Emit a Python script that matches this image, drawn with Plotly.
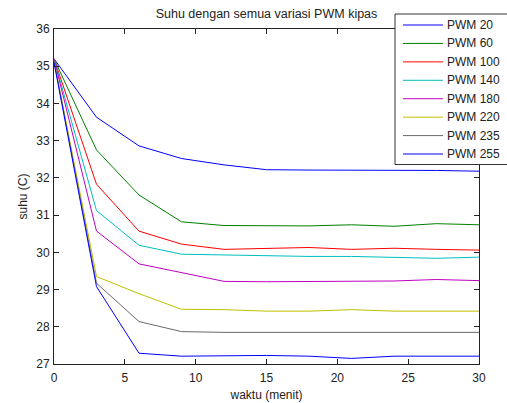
import plotly.graph_objects as go

waktu = [0, 3, 6, 9, 12, 15, 18, 21, 24, 27, 30]

pwm20  = [35.20, 33.63, 32.86, 32.52, 32.35, 32.22, 32.21, 32.21, 32.19, 32.20, 32.18]
pwm60  = [35.20, 32.75, 31.54, 30.82, 30.72, 30.71, 30.71, 30.74, 30.70, 30.77, 30.74]
pwm100 = [35.20, 31.83, 30.57, 30.22, 30.08, 30.11, 30.13, 30.08, 30.11, 30.08, 30.06]
pwm140 = [35.20, 31.12, 30.19, 29.95, 29.93, 29.90, 29.89, 29.89, 29.87, 29.84, 29.87]
pwm180 = [35.20, 30.57, 29.69, 29.45, 29.22, 29.21, 29.21, 29.21, 29.23, 29.27, 29.24]
pwm220 = [35.15, 29.35, 28.89, 28.47, 28.46, 28.42, 28.42, 28.46, 28.42, 28.42, 28.42]
pwm235 = [35.15, 29.17, 28.14, 27.87, 27.85, 27.85, 27.85, 27.85, 27.85, 27.87, 27.85]
pwm255 = [35.10, 29.08, 27.29, 27.21, 27.22, 27.23, 27.21, 27.15, 27.21, 27.21, 27.21]

labels = ["PWM 20", "PWM 60", "PWM 100", "PWM 140", "PWM 180", "PWM 220", "PWM 235", "PWM 255"]
series = [pwm20, pwm60, pwm100, pwm140, pwm180, pwm220, pwm235, pwm255]
colors = ["#0000ff", "#008000", "#ff0000", "#00bfbf", "#bf00bf", "#bfbf00", "#6a6a6a", "#0000ff"]

x_ticks = [0, 5, 10, 15, 20, 25, 30]
y_ticks = [27, 28, 29, 30, 31, 32, 33, 34, 35, 36]

W, H = 507, 403
L, R, T, B = 54, 28, 29, 39
PW, PH = W - L - R, H - T - B

def px_x(px):
    return (px - L) / PW

def px_y(py):
    return (H - B - py) / PH

fig = go.Figure()
for name, ys, c in zip(labels, series, colors):
    fig.add_trace(go.Scatter(x=waktu, y=ys, mode="lines", name=name,
                             line=dict(color=c, width=1), showlegend=False))

font = "Liberation Sans, Arial, sans-serif"
txt = "#222222"

# manual legend box (MATLAB-style, overlapping top-right of axes)
shapes = [dict(type="rect", xref="paper", yref="paper",
               x0=px_x(395), x1=px_x(512), y0=px_y(164.5), y1=px_y(14),
               fillcolor="white", line=dict(color="#333333", width=1), layer="above")]
annotations = []
row0, step = 25.0, 18.43
for i, (name, c) in enumerate(zip(labels, colors)):
    yy = px_y(row0 + i * step)
    shapes.append(dict(type="line", xref="paper", yref="paper",
                       x0=px_x(403), x1=px_x(443), y0=yy, y1=yy,
                       line=dict(color=c, width=1), layer="above"))
    annotations.append(dict(text=name, xref="paper", yref="paper", x=px_x(445), y=yy,
                            xanchor="left", yanchor="middle", showarrow=False,
                            font=dict(size=12, family=font, color=txt)))

fig.update_layout(
    width=W, height=H,
    margin=dict(l=L, r=R, t=T, b=B),
    paper_bgcolor="white", plot_bgcolor="white",
    font=dict(family=font, size=12, color=txt),
    title=dict(text="Suhu dengan semua variasi PWM kipas", x=(L + W - R) / 2 / W,
               xanchor="center", y=1 - 14 / H, yanchor="middle",
               font=dict(size=12.5, family=font, color=txt)),
    showlegend=False,
    shapes=shapes,
    annotations=annotations,
)
fig.update_xaxes(range=[0, 30], tickvals=x_ticks, ticks="inside", ticklen=5,
                 tickcolor=txt, showline=True, linecolor=txt, linewidth=1,
                 mirror="ticks", showgrid=False, zeroline=False, ticklabelstandoff=3,
                 automargin=False,
                 title=dict(text="waktu (menit)", standoff=6, font=dict(size=12)))
fig.update_yaxes(range=[27, 36], tickvals=y_ticks, ticks="inside", ticklen=5,
                 tickcolor=txt, showline=True, linecolor=txt, linewidth=1,
                 mirror="ticks", showgrid=False, zeroline=False, ticklabelstandoff=1,
                 automargin=False,
                 title=dict(text="suhu (C)", standoff=6, font=dict(size=12)))

fig.write_html("out.html")
